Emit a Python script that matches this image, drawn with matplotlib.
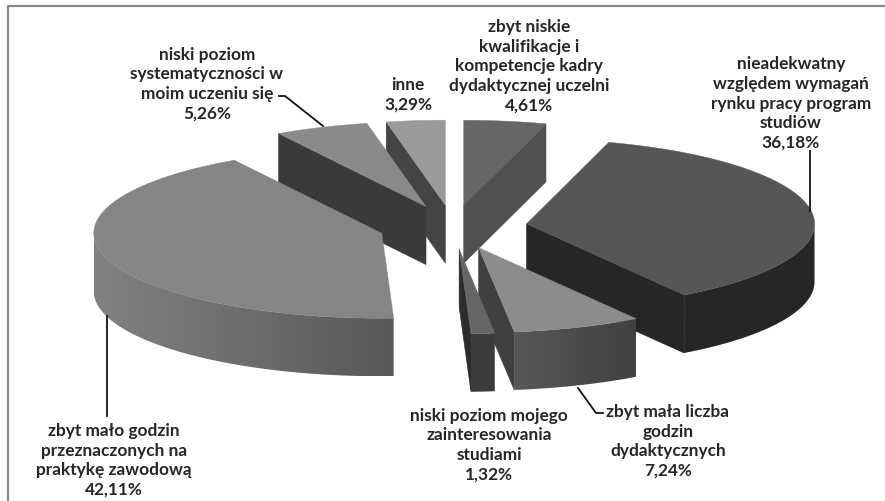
import numpy as np
import matplotlib
matplotlib.use('Agg')
import matplotlib.pyplot as plt
from matplotlib.patches import Polygon

# Dane
labels = ['zbyt niskie\nkwalifikacje i\nkompetencje kadry\ndydaktycznej uczelni',
          'nieadekwatny\nwzględem wymagań\nrynku pracy program\nstudiów',
          'zbyt mała liczba\ngodzin\ndydaktycznych',
          'niski poziom mojego\nzainteresowania\nstudiami',
          'zbyt mało godzin\nprzeznaczonych na\npraktykę zawodową',
          'niski poziom\nsystematyczności w\nmoim uczeniu się',
          'inne']
values = [4.61, 36.18, 7.24, 1.32, 42.11, 5.26, 3.29]

# Kolory kolejnych wycinkow
top_colors = ['#666666', '#565656', '#8c8c8c', '#666666', '#858585', '#8a8a8a', '#9a9a9a']
cut_colors = ['#505050', '#262626', '#404040', '#2c2c2c', '#404040', '#3a3a3a', '#444444']
wall_left = ['#505050', '#262626', '#585858', '#3c3c3c', '#828282', '#3a3a3a', '#444444']
wall_right = ['#505050', '#262626', '#404040', '#3c3c3c', '#585858', '#3a3a3a', '#444444']

# Srodki podpisow (piksele)
label_x = [529, 791, 668, 489, 114, 207, 408]
label_y = [66.5, 103.5, 441.5, 445, 460.5, 84, 94.5]

# Geometria pseudo-3D
cx, cy = 453, 228
rx, ry = 288, 85
depth = 58
explode = 0.258
draw_order = [6, 0, 5, 1, 2, 4, 3]

fig = plt.figure(figsize=(8.85, 5.02), dpi=100)
ax = fig.add_axes([0, 0, 1, 1])

# Ramka (prawa i dolna krawedz poza obrazem)
ax.plot([8, 8, 890], [510, 6.5, 6.5], color='#8a8a8a', lw=1.6, zorder=1)

shares = np.array(values) / sum(values) * 2 * np.pi
ends = np.cumsum(shares)
starts = ends - shares

z = 2
for i in draw_order:
    mid = (starts[i] + ends[i]) / 2
    ax0 = cx + explode * rx * np.sin(mid)
    ay0 = cy - explode * ry * np.cos(mid)
    t = np.linspace(starts[i], ends[i], 160)
    xs = ax0 + rx * np.sin(t)
    ys = ay0 - ry * np.cos(t)
    xm = ax0 + rx * np.sin(mid)
    ym = ay0 - ry * np.cos(mid)

    # sciany przekroju: widoczne gdy wnetrze wycinka lezy nad krawedzia
    for xe, ye in [(xs[0], ys[0]), (xs[-1], ys[-1])]:
        if abs(xe - ax0) < 1e-6:
            continue
        line_y = ay0 + (ye - ay0) * (xm - ax0) / (xe - ax0)
        if ym < line_y:
            ax.fill([ax0, xe, xe, ax0], [ay0, ye, ye + depth, ay0 + depth],
                    color=cut_colors[i], lw=0.4, zorder=z)

    # sciana zewnetrzna z gradientem poziomym
    front = np.cos(t) < 0
    if front.any():
        xf, yf = xs[front], ys[front]
        c0 = np.array(matplotlib.colors.to_rgb(wall_left[i]))
        c1 = np.array(matplotlib.colors.to_rgb(wall_right[i]))
        grad = c0 + (c1 - c0) * np.linspace(0, 1, 256)[:, None]
        img = ax.imshow(grad[None, :, :], extent=[xf.min(), xf.max(), yf.max() + depth, yf.min()],
                        aspect='auto', zorder=z)
        wall = Polygon(np.c_[np.r_[xf, xf[::-1]], np.r_[yf, yf[::-1] + depth]],
                       closed=True, transform=ax.transData, fc='none', ec='none')
        ax.add_patch(wall)
        img.set_clip_path(wall)

    # wierzch
    ax.fill(np.r_[ax0, xs], np.r_[ay0, ys], color=top_colors[i], lw=0.3, zorder=z + 0.5)
    z += 1

# Linie odniesienia
ax.plot([279, 285, 323], [97, 97, 127], color='#111111', lw=1.3, zorder=20)
ax.plot([810, 810], [152, 212], color='#111111', lw=1.3, zorder=20)
ax.plot([107, 107], [317, 417], color='#111111', lw=1.3, zorder=20)
ax.plot([578, 596, 603], [389, 414, 414], color='#111111', lw=1.3, zorder=20)

# Podpisy
for i in range(len(values)):
    txt = labels[i] + '\n' + f'{values[i]:.2f}'.replace('.', ',') + '%'
    ax.text(label_x[i], label_y[i], txt, ha='center', va='center', multialignment='center',
            family='Lato', fontweight='bold', fontsize=12.4, color='#262626',
            linespacing=1.27, zorder=21)

ax.set_xlim(0, 885)
ax.set_ylim(502, 0)
ax.axis('off')

fig.savefig('out.png', dpi=100)
